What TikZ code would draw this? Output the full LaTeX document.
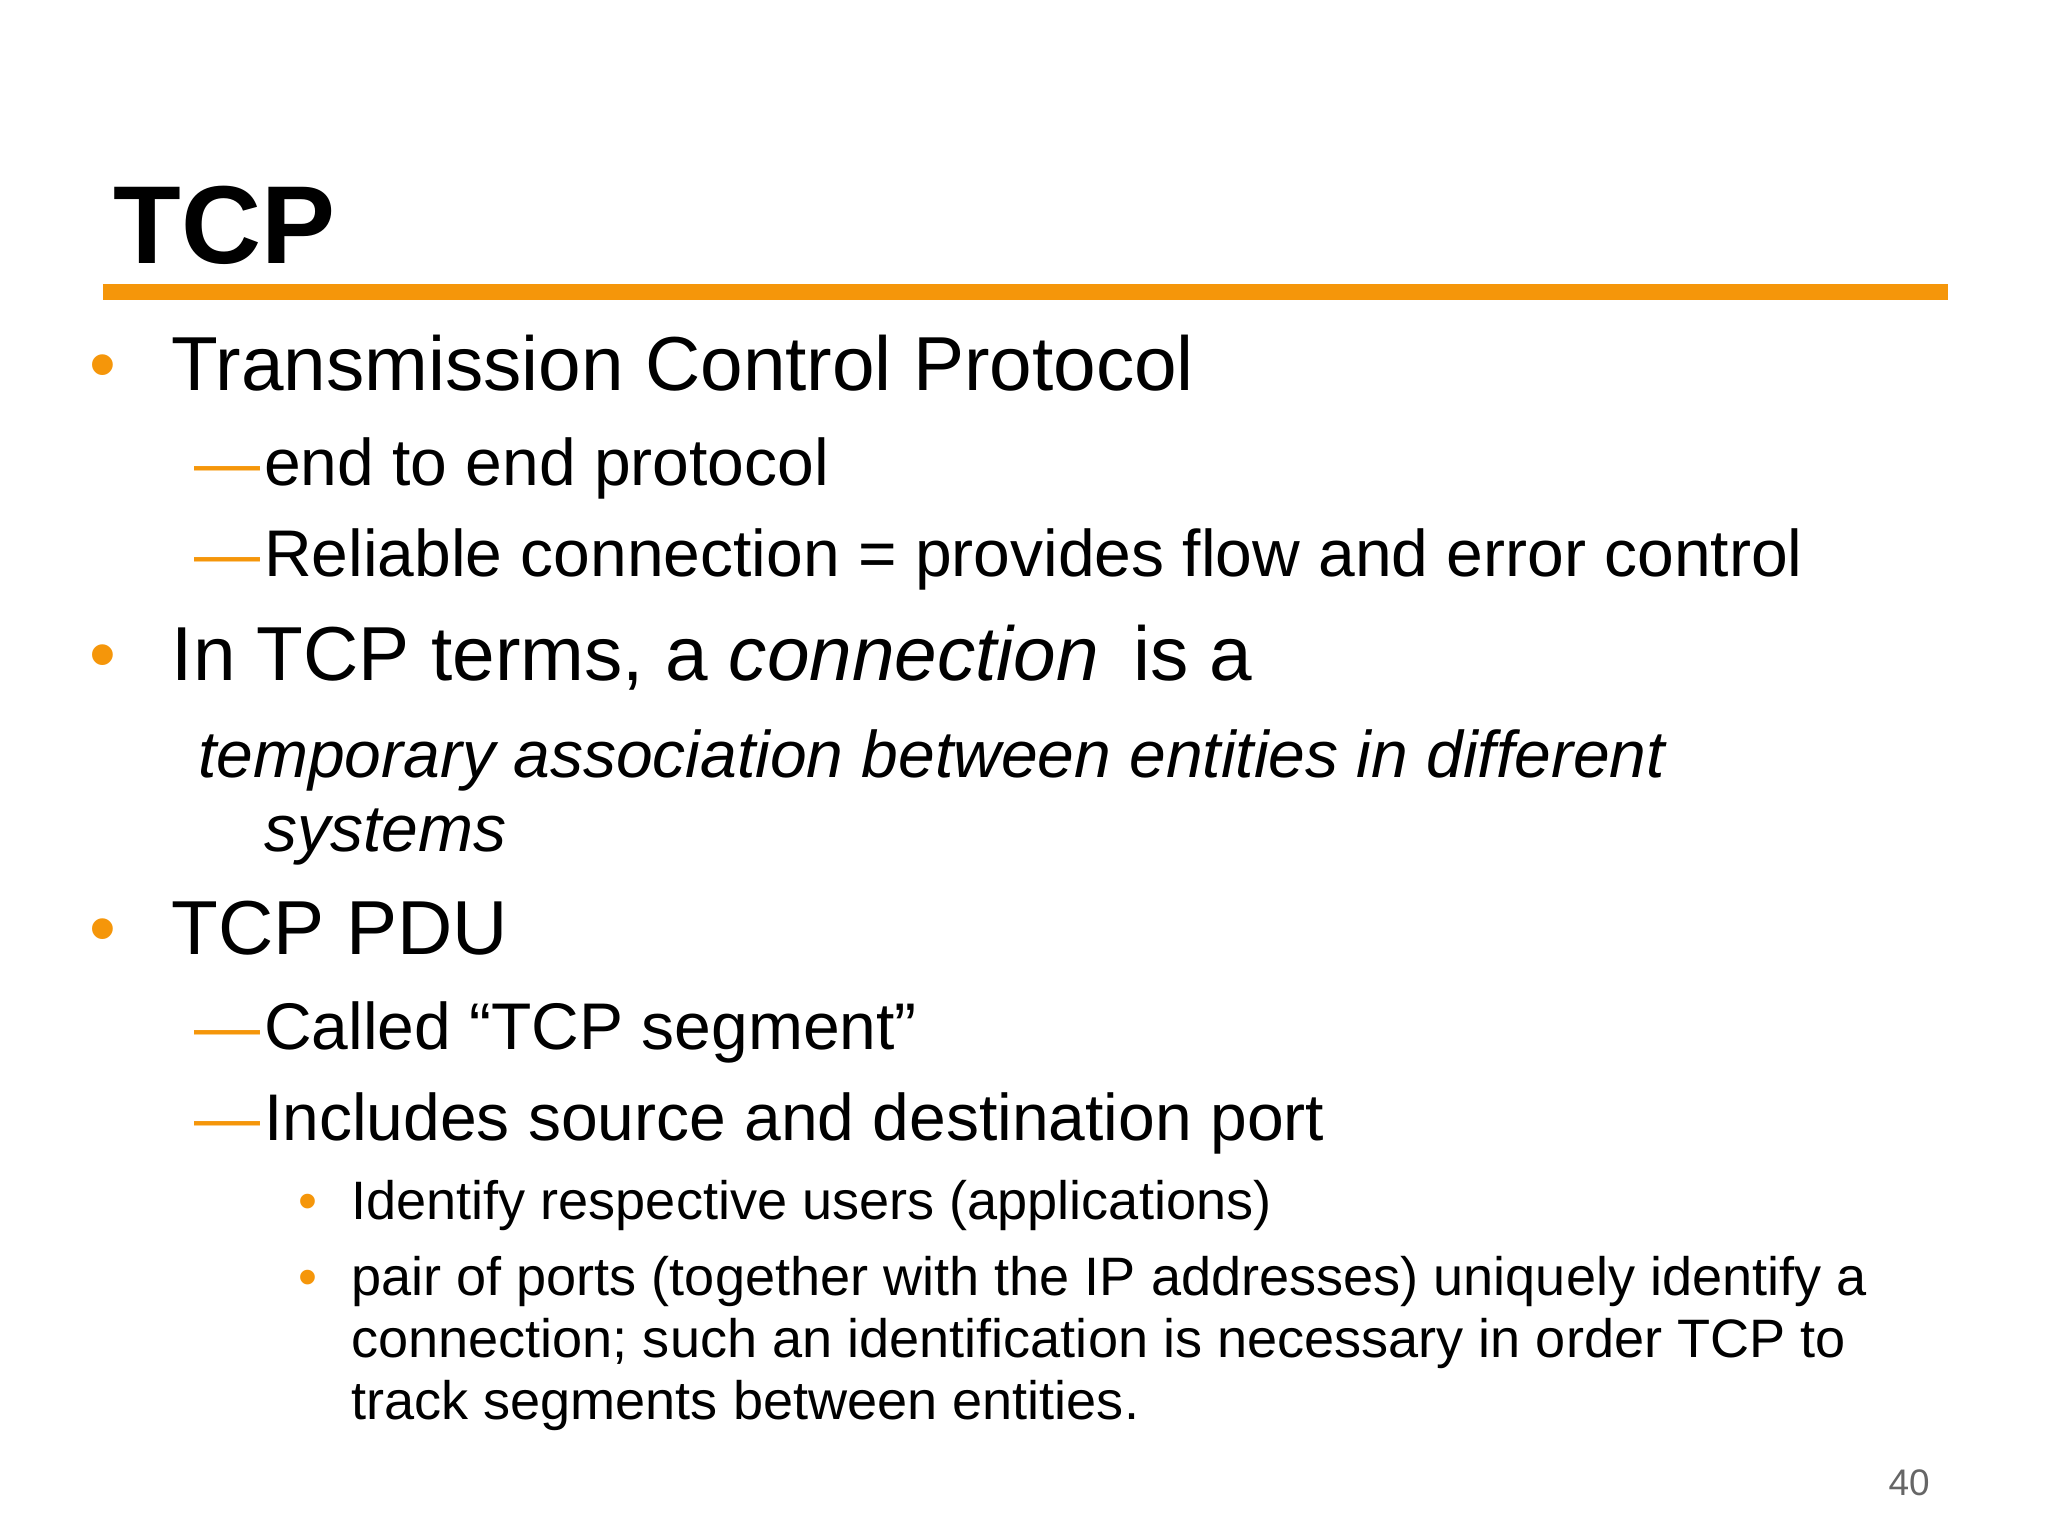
\documentclass[tikz,border=0pt]{standalone}
\usepackage{fontspec}
\setmainfont{Liberation Sans}
\definecolor{org}{RGB}{245,150,10}
\begin{document}
\begin{tikzpicture}[x=1pt,y=-1pt,
  t/.style={anchor=base west,inner sep=0pt},
  l1/.style={t,font=\fontsize{58}{66}\selectfont},
  l2/.style={t,font=\fontsize{50}{58}\selectfont},
  l3/.style={t,font=\fontsize{41}{47}\selectfont},
  bul/.style={t,text=org}]
\useasboundingbox (0,0) rectangle (1552,1164);
\node[t,font=\fontsize{84}{90}\selectfont\bfseries] (title) at (86,200) {TCP};
\draw[org,line width=12pt] (78,221) -- (1476,221);
\node[bul,font=\fontsize{58}{66}\selectfont] (b1) at (68,296) {•};
\node[l1] (t1) at (130,296) {Transmission Control Protocol};
\node[bul,font=\fontsize{50}{58}\selectfont] (d1) at (147,368) {—};
\node[l2] (t2) at (200,368) {end to end protocol};
\node[bul,font=\fontsize{50}{58}\selectfont] (d2) at (147,437) {—};
\node[l2] (t3) at (200,437) {Reliable connection = provides flow and error control};
\node[bul,font=\fontsize{58}{66}\selectfont] (b2) at (68,516) {•};
\node[l1] (t4) at (130,516) {In TCP terms, a \textit{connection}\, is a};
\node[l2,font=\fontsize{50}{58}\selectfont\itshape] (t5) at (150,589) {temporary association between entities in different};
\node[l2,font=\fontsize{50}{58}\selectfont\itshape] (t6) at (200,645) {systems};
\node[bul,font=\fontsize{58}{66}\selectfont] (b3) at (68,723) {•};
\node[l1] (t7) at (130,723) {TCP PDU};
\node[bul,font=\fontsize{50}{58}\selectfont] (d3) at (147,795) {—};
\node[l2] (t8) at (200,795) {Called “TCP segment”};
\node[bul,font=\fontsize{50}{58}\selectfont] (d4) at (147,864) {—};
\node[l2] (t9) at (200,864) {Includes source and destination port};
\node[bul,font=\fontsize{41}{47}\selectfont] (b4) at (226,924) {•};
\node[l3] (t10) at (266,924) {Identify respective users (applications)};
\node[bul,font=\fontsize{41}{47}\selectfont] (b5) at (226,982) {•};
\node[l3] (t11) at (266,982) {pair of ports (together with the IP addresses) uniquely identify a};
\node[l3] (t12) at (266,1029) {connection; such an identification is necessary in order TCP to};
\node[l3] (t13) at (266,1076) {track segments between entities.};
\node[t,font=\fontsize{28}{32}\selectfont,text=black!60] (pg) at (1431,1133) {40};
\end{tikzpicture}
\end{document}
